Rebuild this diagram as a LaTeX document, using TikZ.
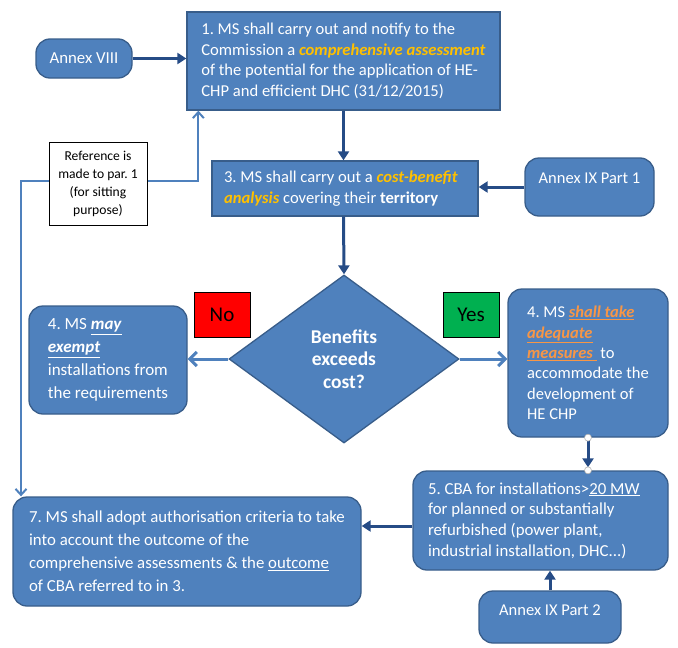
\documentclass[tikz,border=0pt]{standalone}
\usepackage{fontspec}
\setmainfont{Carlito}
\usetikzlibrary{arrows.meta,shapes.geometric}
\definecolor{boxblue}{HTML}{4F81BD}
\definecolor{boxedge}{HTML}{385D8A}
\definecolor{flowblue}{HTML}{264C86}
\definecolor{keygold}{HTML}{FFC000}
\definecolor{keyorange}{HTML}{F79646}
\definecolor{nored}{HTML}{FF0000}
\definecolor{yesgreen}{HTML}{00B050}
\newcommand{\keyterm}[1]{\textcolor{keygold}{\textbf{\textit{#1}}}}% gold highlight
\newcommand{\mustdo}[1]{\textcolor{keyorange}{\underline{\textbf{\textit{#1}}}}}
\frenchspacing

\begin{document}
\begin{tikzpicture}[x=1pt,y=-1pt,
  box/.style={draw=boxedge,line width=1.3pt,fill=boxblue,text=white,inner xsep=11pt,inner ysep=0pt,
    font=\fontsize{16}{20.7}\selectfont,align=left},
  roundbox/.style={box,rounded corners=14pt},
  flow/.style={draw=flowblue,line width=3pt,-{Triangle[length=9pt,width=11pt]}},
  choice/.style={draw=boxblue,line width=3pt,-{Straight Barb[length=7pt,width=14pt,line width=3pt]}},
  refline/.style={draw=boxblue,line width=2pt,{Straight Barb[length=6pt,width=11pt]}-{Straight Barb[length=6pt,width=11pt]}},
  answer/.style={draw=black,line width=0.8pt,minimum width=56pt,minimum height=45pt,font=\fontsize{21}{22}\selectfont},
  joint/.style={fill=white,draw=gray!60,line width=0.6pt}]
  \useasboundingbox (0,0) rectangle (678,648);

  % boxes
  \node[box,minimum width=313pt,minimum height=98pt,font=\fontsize{16.6}{20.7}\selectfont] (ms1) at (343.5,61)
    {1. MS shall carry out and notify to the\\ Commission a \keyterm{comprehensive assessment}\\
     of the potential for the application of HE-\\ CHP and efficient DHC (31/12/2015)};
  \node[roundbox,minimum width=96pt,minimum height=39pt,align=center,font=\fontsize{16.8}{20}\selectfont] (annexviii) at (84,58.5) {Annex VIII};
  \node[box,inner xsep=12pt,minimum width=266pt,minimum height=55pt,text width=242pt,align=flush left,
    font=\fontsize{16.6}{21}\selectfont] (ms3) at (345,188.5)
    {3. MS shall carry out a \keyterm{cost-benefit}\\ \keyterm{analysis} covering their \textbf{territory}};
  \node[roundbox,minimum width=129pt,minimum height=58pt,align=center,text height=12pt,text depth=19pt,
    font=\fontsize{16.5}{20}\selectfont] (annexix1) at (589.5,187)
    {Annex IX Part 1};
  \node[diamond,draw=boxedge,line width=1.3pt,fill=boxblue,text=white,inner sep=0pt,
    minimum width=230pt,minimum height=168pt,align=center,
    font=\fontsize{19.5}{22.5}\selectfont\bfseries] (benefit) at (344,359) {Benefits\\ exceeds\\ cost?};
  \node[roundbox,minimum width=158pt,minimum height=108pt,
    font=\fontsize{17}{23}\selectfont] (exempt) at (108,360)
    {4. MS \underline{\textbf{\textit{may}}}\\ \underline{\textbf{\textit{exempt}}}\\ installations from\\ the requirements};
  \node[answer,fill=nored] (nolabel) at (222,314.5) {No};
  \node[answer,fill=yesgreen] (yeslabel) at (471,314.5) {Yes};
  \node[roundbox,minimum width=160pt,minimum height=148pt,
    font=\fontsize{16.5}{20.4}\selectfont] (measures) at (588,363)
    {4. MS \mustdo{shall take}\\ \mustdo{adequate}\\ \mustdo{measures\ } to\\ accommodate the\\ development of\\ HE CHP};
  \node[roundbox,inner xsep=15pt,minimum width=255pt,minimum height=99pt,text width=225pt,align=flush left,
    font=\fontsize{16.8}{20.7}\selectfont] (cba) at (540.5,520.5)
    {5. CBA for installations>\underline{20 MW}\\ for planned or substantially\\ refurbished (power plant,\\ industrial installation, DHC...)};
  \node[roundbox,minimum width=142pt,minimum height=52pt,align=center,text height=12pt,text depth=15pt,
    font=\fontsize{16.5}{20}\selectfont] (annexix2) at (550,617)
    {Annex IX Part 2};
  \node[roundbox,minimum width=348pt,minimum height=109pt,
    font=\fontsize{16.8}{23}\selectfont] (authorise) at (187,551.5)
    {7. MS shall adopt authorisation criteria to take\\ into account the outcome of the\\
     comprehensive assessments \& the \underline{outcome}\\ of CBA referred to in 3.};

  % connectors
  \draw[flow] (annexviii.east) -- (ms1.west |- annexviii.east);
  \draw[flow] (ms1.south) -- (ms1.south |- ms3.north);
  \draw[flow] (annexix1.west) -- (ms3.east |- annexix1.west);
  \draw[flow] (ms1.south |- ms3.south) -- (benefit.north);
  \draw[choice] (benefit.west) -- (exempt.east |- benefit.west);
  \draw[choice] (benefit.east) -- (measures.west |- benefit.east);
  \draw[flow,shorten >=3pt] (measures.south) -- (measures.south |- cba.north);
  \filldraw[joint] (measures.south) circle (3.5);
  \filldraw[joint] (measures.south |- cba.north) circle (3.5);
  \draw[flow] (annexix2.north) -- (annexix2.north |- cba.south);
  \draw[flow] ([yshift=-5.5pt]cba.west) coordinate (cbaout) -- (authorise.east |- cbaout);

  % reference back to par. 1
  \coordinate (loopturn) at (21,181);
  \draw[refline] ([xshift=12pt]ms1.south west) |- (loopturn) -- (loopturn |- authorise.north);
  \node[draw=black,line width=0.8pt,fill=white,minimum width=98pt,minimum height=83pt,inner sep=0pt,
    align=center,font=\fontsize{13.6}{18}\selectfont] (refnote) at (98,183.5)
    {Reference is\\ made to par. 1\\ (for sitting\\ purpose)};
\end{tikzpicture}
\end{document}
